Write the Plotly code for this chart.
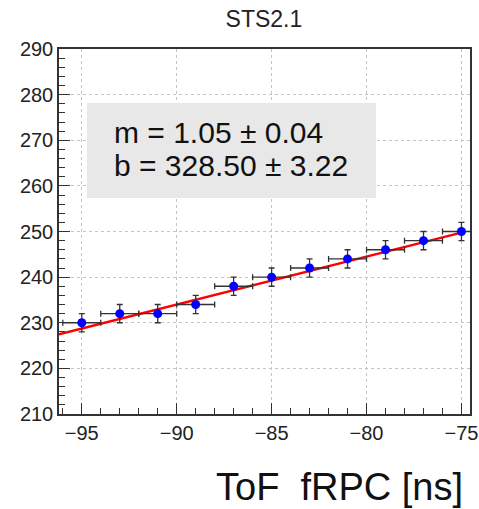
import plotly.graph_objects as go

# Measured points: ToF fRPC vs STS2.1 timing
tof_frpc = [-95, -93, -91, -89, -87, -85, -83, -81, -79, -77, -75]
sts_time = [230, 232, 232, 234, 238, 240, 242, 244, 246, 248, 250]
x_err = [1, 1, 1, 1, 1, 1, 1, 1, 1, 1, 1]
y_err = [2, 2, 2, 2, 2, 2, 2, 2, 2, 2, 2]

# Linear fit result y = m*x + b
fit_m = 1.05
fit_m_err = 0.04
fit_b = 328.50
fit_b_err = 3.22
fit_x = [-96.2, -75.0]

x_range = [-96.2, -74.55]
y_range = [210, 290]
y_ticks = [210, 220, 230, 240, 250, 260, 270, 280, 290]
x_ticks = [-95, -90, -85, -80, -75]

FONT = "Liberation Sans, Arial, sans-serif"

fig = go.Figure()

fig.add_trace(go.Scatter(
    x=fit_x,
    y=[fit_m * v + fit_b for v in fit_x],
    mode="lines",
    line=dict(color="#ff0000", width=2.5),
    showlegend=False,
))

fig.add_trace(go.Scatter(
    x=tof_frpc,
    y=sts_time,
    mode="markers",
    marker=dict(color="#0000ff", size=9),
    error_x=dict(type="data", array=x_err, color="#333333", thickness=1.3, width=3),
    error_y=dict(type="data", array=y_err, color="#333333", thickness=1.3, width=3),
    showlegend=False,
))

# Fit parameter box
fig.add_shape(type="rect", xref="paper", yref="paper",
              x0=0.068, x1=0.771, y0=0.592, y1=0.852,
              fillcolor="#e8e8e8", line=dict(width=0), layer="above")
fig.add_annotation(xref="paper", yref="paper", x=0.129, y=0.77,
                   xanchor="left", yanchor="middle", showarrow=False,
                   text=f"m = {fit_m:.2f} ± {fit_m_err:.2f}",
                   font=dict(family=FONT, size=30, color="#111111"))
fig.add_annotation(xref="paper", yref="paper", x=0.129, y=0.68,
                   xanchor="left", yanchor="middle", showarrow=False,
                   text=f"b = {fit_b:.2f} ± {fit_b_err:.2f}",
                   font=dict(family=FONT, size=30, color="#111111"))

# Axis title drawn as an annotation so it can sit right-aligned under the axis
fig.add_annotation(xref="paper", yref="paper", x=0.988, y=-0.20,
                   xanchor="right", yanchor="middle", showarrow=False,
                   text="ToF  fRPC [ns]",
                   font=dict(family=FONT, size=38, color="#111111"))

fig.update_layout(
    width=479, height=509,
    margin=dict(l=59, r=9, t=49, b=95, autoexpand=False),
    paper_bgcolor="white",
    plot_bgcolor="white",
    title=dict(text="STS2.1", x=0.551, xanchor="center", y=0.962, yanchor="middle",
               font=dict(family=FONT, size=23, color="#222222")),
    font=dict(family=FONT, color="#222222"),
)

fig.update_xaxes(
    range=x_range, tickvals=x_ticks,
    ticktext=[f"−{abs(v)}" for v in x_ticks],
    ticks="inside", ticklen=11, tickwidth=1.3, tickcolor="#333333",
    minor=dict(ticks="inside", dtick=1, tick0=-95, ticklen=6, tickcolor="#333333",
               showgrid=False),
    showgrid=True, gridcolor="#c4c4c4", griddash="dot", gridwidth=1,
    showline=True, linecolor="#333333", linewidth=1.5, mirror=True,
    tickfont=dict(family=FONT, size=20, color="#222222"),
    zeroline=False, automargin=False,
)

fig.update_yaxes(
    range=y_range, tickvals=y_ticks,
    ticks="inside", ticklen=11, tickwidth=1.3, tickcolor="#333333",
    minor=dict(ticks="inside", dtick=2, tick0=210, ticklen=6, tickcolor="#333333",
               showgrid=False),
    showgrid=True, gridcolor="#c4c4c4", griddash="dot", gridwidth=1,
    showline=True, linecolor="#333333", linewidth=1.5, mirror=True,
    tickfont=dict(family=FONT, size=20, color="#222222"),
    zeroline=False, automargin=False,
)

fig.write_html("out.html")
